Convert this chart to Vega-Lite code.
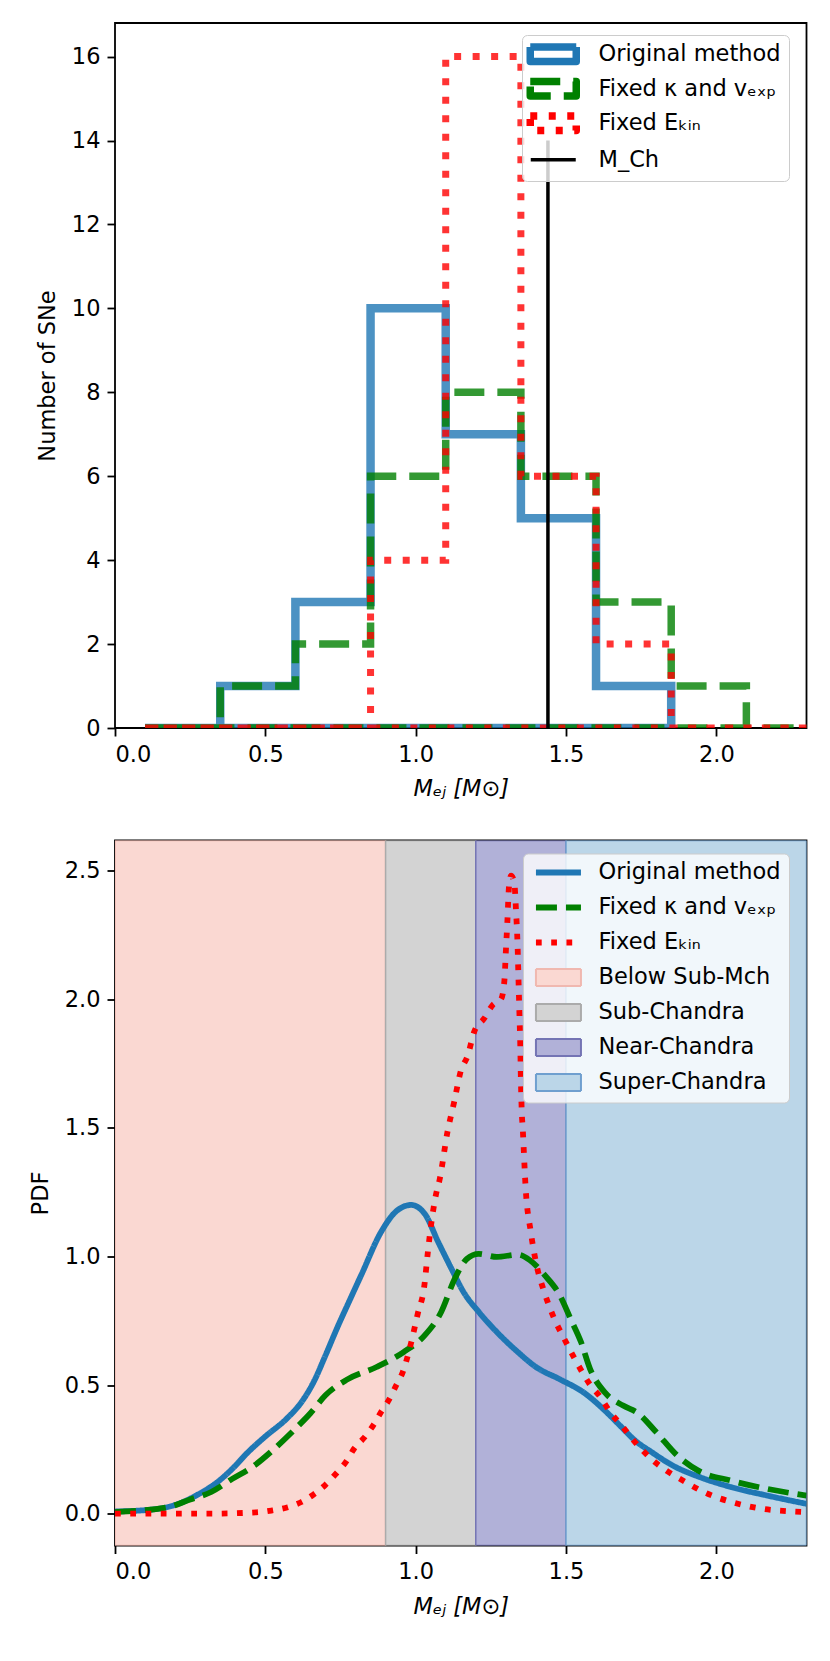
{
  "$schema": "https://vega.github.io/schema/vega-lite/v6.json",
  "padding": {"left": 28, "top": 22, "right": 5, "bottom": 5},
  "background": "white",
  "config": {
    "font": "DejaVu Sans",
    "view": {"stroke": "black", "strokeWidth": 1.8},
    "axis": {"domain": false, "grid": false, "ticks": true, "tickColor": "black", "tickWidth": 1.8, "tickSize": 8, "labelFont": "DejaVu Sans", "labelFontSize": 22.5, "labelColor": "black", "labelPadding": 7, "titleFont": "DejaVu Sans", "titleFontSize": 22.5, "titleFontWeight": "normal", "titleColor": "black", "titlePadding": 12},
    "legend": {"labelFont": "DejaVu Sans", "labelFontSize": 22.5, "labelColor": "black", "labelLimit": 500}
  },
  "datasets": {
    "hist": [
      {"method": "Original method", "i": 0, "x": 0.1, "y": 0},
      {"method": "Original method", "i": 1, "x": 0.35, "y": 1},
      {"method": "Original method", "i": 2, "x": 0.6, "y": 3},
      {"method": "Original method", "i": 3, "x": 0.85, "y": 10},
      {"method": "Original method", "i": 4, "x": 1.1, "y": 7},
      {"method": "Original method", "i": 5, "x": 1.35, "y": 5},
      {"method": "Original method", "i": 6, "x": 1.6, "y": 1},
      {"method": "Original method", "i": 7, "x": 1.85, "y": 0},
      {"method": "Original method", "i": 8, "x": 0.1, "y": 0},
      {"method": "Fixed κ and vₑₓₚ", "i": 0, "x": 0.1, "y": 0},
      {"method": "Fixed κ and vₑₓₚ", "i": 1, "x": 0.35, "y": 1},
      {"method": "Fixed κ and vₑₓₚ", "i": 2, "x": 0.6, "y": 2},
      {"method": "Fixed κ and vₑₓₚ", "i": 3, "x": 0.85, "y": 6},
      {"method": "Fixed κ and vₑₓₚ", "i": 4, "x": 1.1, "y": 8},
      {"method": "Fixed κ and vₑₓₚ", "i": 5, "x": 1.35, "y": 6},
      {"method": "Fixed κ and vₑₓₚ", "i": 6, "x": 1.6, "y": 3},
      {"method": "Fixed κ and vₑₓₚ", "i": 7, "x": 1.85, "y": 1},
      {"method": "Fixed κ and vₑₓₚ", "i": 8, "x": 2.1, "y": 0},
      {"method": "Fixed κ and vₑₓₚ", "i": 9, "x": 2.35, "y": 0},
      {"method": "Fixed κ and vₑₓₚ", "i": 10, "x": 0.1, "y": 0},
      {"method": "Fixed Eₖᵢₙ", "i": 0, "x": 0.1, "y": 0},
      {"method": "Fixed Eₖᵢₙ", "i": 1, "x": 0.35, "y": 0},
      {"method": "Fixed Eₖᵢₙ", "i": 2, "x": 0.6, "y": 0},
      {"method": "Fixed Eₖᵢₙ", "i": 3, "x": 0.85, "y": 4},
      {"method": "Fixed Eₖᵢₙ", "i": 4, "x": 1.1, "y": 16},
      {"method": "Fixed Eₖᵢₙ", "i": 5, "x": 1.35, "y": 6},
      {"method": "Fixed Eₖᵢₙ", "i": 6, "x": 1.6, "y": 2},
      {"method": "Fixed Eₖᵢₙ", "i": 7, "x": 1.85, "y": 0},
      {"method": "Fixed Eₖᵢₙ", "i": 8, "x": 2.35, "y": 0},
      {"method": "Fixed Eₖᵢₙ", "i": 9, "x": 0.1, "y": 0}
    ],
    "regions": [
      {"series": "Below Sub-Mch", "x0": 0, "x1": 0.9},
      {"series": "Sub-Chandra", "x0": 0.9, "x1": 1.2},
      {"series": "Near-Chandra", "x0": 1.2, "x1": 1.5},
      {"series": "Super-Chandra", "x0": 1.5, "x1": 2.3}
    ],
    "curves": [
      {"series": "Original method", "x": 0, "y": 0.008},
      {"series": "Original method", "x": 0.14, "y": 0.018},
      {"series": "Original method", "x": 0.21, "y": 0.038},
      {"series": "Original method", "x": 0.28, "y": 0.077},
      {"series": "Original method", "x": 0.34, "y": 0.122},
      {"series": "Original method", "x": 0.39, "y": 0.174},
      {"series": "Original method", "x": 0.44, "y": 0.236},
      {"series": "Original method", "x": 0.5, "y": 0.3},
      {"series": "Original method", "x": 0.57, "y": 0.368},
      {"series": "Original method", "x": 0.62, "y": 0.433},
      {"series": "Original method", "x": 0.66, "y": 0.51},
      {"series": "Original method", "x": 0.7, "y": 0.615},
      {"series": "Original method", "x": 0.74, "y": 0.725},
      {"series": "Original method", "x": 0.78, "y": 0.828},
      {"series": "Original method", "x": 0.82, "y": 0.93},
      {"series": "Original method", "x": 0.885, "y": 1.095},
      {"series": "Original method", "x": 0.94, "y": 1.18},
      {"series": "Original method", "x": 0.985, "y": 1.2},
      {"series": "Original method", "x": 1.03, "y": 1.166},
      {"series": "Original method", "x": 1.075, "y": 1.056},
      {"series": "Original method", "x": 1.12, "y": 0.95},
      {"series": "Original method", "x": 1.16, "y": 0.86},
      {"series": "Original method", "x": 1.21, "y": 0.784},
      {"series": "Original method", "x": 1.27, "y": 0.706},
      {"series": "Original method", "x": 1.34, "y": 0.628},
      {"series": "Original method", "x": 1.4, "y": 0.57},
      {"series": "Original method", "x": 1.48, "y": 0.522},
      {"series": "Original method", "x": 1.56, "y": 0.47},
      {"series": "Original method", "x": 1.63, "y": 0.4},
      {"series": "Original method", "x": 1.68, "y": 0.342},
      {"series": "Original method", "x": 1.73, "y": 0.284},
      {"series": "Original method", "x": 1.785, "y": 0.239},
      {"series": "Original method", "x": 1.855, "y": 0.187},
      {"series": "Original method", "x": 1.945, "y": 0.142},
      {"series": "Original method", "x": 2.05, "y": 0.103},
      {"series": "Original method", "x": 2.17, "y": 0.07},
      {"series": "Original method", "x": 2.3, "y": 0.038},
      {"series": "Fixed κ and vₑₓₚ", "x": 0, "y": 0.006},
      {"series": "Fixed κ and vₑₓₚ", "x": 0.176, "y": 0.025},
      {"series": "Fixed κ and vₑₓₚ", "x": 0.25, "y": 0.055},
      {"series": "Fixed κ and vₑₓₚ", "x": 0.32, "y": 0.084},
      {"series": "Fixed κ and vₑₓₚ", "x": 0.39, "y": 0.135},
      {"series": "Fixed κ and vₑₓₚ", "x": 0.46, "y": 0.184},
      {"series": "Fixed κ and vₑₓₚ", "x": 0.53, "y": 0.252},
      {"series": "Fixed κ and vₑₓₚ", "x": 0.6, "y": 0.33},
      {"series": "Fixed κ and vₑₓₚ", "x": 0.65, "y": 0.39},
      {"series": "Fixed κ and vₑₓₚ", "x": 0.7, "y": 0.46},
      {"series": "Fixed κ and vₑₓₚ", "x": 0.77, "y": 0.52},
      {"series": "Fixed κ and vₑₓₚ", "x": 0.87, "y": 0.57},
      {"series": "Fixed κ and vₑₓₚ", "x": 0.96, "y": 0.628},
      {"series": "Fixed κ and vₑₓₚ", "x": 1.03, "y": 0.693},
      {"series": "Fixed κ and vₑₓₚ", "x": 1.085, "y": 0.784},
      {"series": "Fixed κ and vₑₓₚ", "x": 1.13, "y": 0.913},
      {"series": "Fixed κ and vₑₓₚ", "x": 1.17, "y": 0.99},
      {"series": "Fixed κ and vₑₓₚ", "x": 1.21, "y": 1.01},
      {"series": "Fixed κ and vₑₓₚ", "x": 1.27, "y": 0.998},
      {"series": "Fixed κ and vₑₓₚ", "x": 1.34, "y": 1.007},
      {"series": "Fixed κ and vₑₓₚ", "x": 1.38, "y": 0.985},
      {"series": "Fixed κ and vₑₓₚ", "x": 1.43, "y": 0.926},
      {"series": "Fixed κ and vₑₓₚ", "x": 1.48, "y": 0.848},
      {"series": "Fixed κ and vₑₓₚ", "x": 1.515, "y": 0.758},
      {"series": "Fixed κ and vₑₓₚ", "x": 1.55, "y": 0.667},
      {"series": "Fixed κ and vₑₓₚ", "x": 1.58, "y": 0.563},
      {"series": "Fixed κ and vₑₓₚ", "x": 1.63, "y": 0.47},
      {"series": "Fixed κ and vₑₓₚ", "x": 1.69, "y": 0.42},
      {"series": "Fixed κ and vₑₓₚ", "x": 1.74, "y": 0.39},
      {"series": "Fixed κ and vₑₓₚ", "x": 1.8, "y": 0.317},
      {"series": "Fixed κ and vₑₓₚ", "x": 1.87, "y": 0.226},
      {"series": "Fixed κ and vₑₓₚ", "x": 1.94, "y": 0.167},
      {"series": "Fixed κ and vₑₓₚ", "x": 2.05, "y": 0.128},
      {"series": "Fixed κ and vₑₓₚ", "x": 2.17, "y": 0.096},
      {"series": "Fixed κ and vₑₓₚ", "x": 2.3, "y": 0.07},
      {"series": "Fixed Eₖᵢₙ", "x": 0, "y": 0.0},
      {"series": "Fixed Eₖᵢₙ", "x": 0.32, "y": 0.0},
      {"series": "Fixed Eₖᵢₙ", "x": 0.47, "y": 0.005},
      {"series": "Fixed Eₖᵢₙ", "x": 0.52, "y": 0.012},
      {"series": "Fixed Eₖᵢₙ", "x": 0.575, "y": 0.025},
      {"series": "Fixed Eₖᵢₙ", "x": 0.62, "y": 0.045},
      {"series": "Fixed Eₖᵢₙ", "x": 0.66, "y": 0.074},
      {"series": "Fixed Eₖᵢₙ", "x": 0.7, "y": 0.112},
      {"series": "Fixed Eₖᵢₙ", "x": 0.735, "y": 0.155},
      {"series": "Fixed Eₖᵢₙ", "x": 0.77, "y": 0.204},
      {"series": "Fixed Eₖᵢₙ", "x": 0.795, "y": 0.252},
      {"series": "Fixed Eₖᵢₙ", "x": 0.83, "y": 0.297},
      {"series": "Fixed Eₖᵢₙ", "x": 0.86, "y": 0.345},
      {"series": "Fixed Eₖᵢₙ", "x": 0.885, "y": 0.395},
      {"series": "Fixed Eₖᵢₙ", "x": 0.91, "y": 0.44},
      {"series": "Fixed Eₖᵢₙ", "x": 0.935, "y": 0.498},
      {"series": "Fixed Eₖᵢₙ", "x": 0.957, "y": 0.55},
      {"series": "Fixed Eₖᵢₙ", "x": 0.984, "y": 0.66},
      {"series": "Fixed Eₖᵢₙ", "x": 1.007, "y": 0.777},
      {"series": "Fixed Eₖᵢₙ", "x": 1.029, "y": 0.887},
      {"series": "Fixed Eₖᵢₙ", "x": 1.04, "y": 1.01},
      {"series": "Fixed Eₖᵢₙ", "x": 1.051, "y": 1.12},
      {"series": "Fixed Eₖᵢₙ", "x": 1.067, "y": 1.237},
      {"series": "Fixed Eₖᵢₙ", "x": 1.08, "y": 1.3},
      {"series": "Fixed Eₖᵢₙ", "x": 1.106, "y": 1.485},
      {"series": "Fixed Eₖᵢₙ", "x": 1.128, "y": 1.6},
      {"series": "Fixed Eₖᵢₙ", "x": 1.15, "y": 1.72},
      {"series": "Fixed Eₖᵢₙ", "x": 1.173, "y": 1.78},
      {"series": "Fixed Eₖᵢₙ", "x": 1.195, "y": 1.874},
      {"series": "Fixed Eₖᵢₙ", "x": 1.228, "y": 1.925},
      {"series": "Fixed Eₖᵢₙ", "x": 1.256, "y": 1.977},
      {"series": "Fixed Eₖᵢₙ", "x": 1.284, "y": 2.0},
      {"series": "Fixed Eₖᵢₙ", "x": 1.295, "y": 2.07},
      {"series": "Fixed Eₖᵢₙ", "x": 1.3, "y": 2.185},
      {"series": "Fixed Eₖᵢₙ", "x": 1.305, "y": 2.3},
      {"series": "Fixed Eₖᵢₙ", "x": 1.31, "y": 2.43},
      {"series": "Fixed Eₖᵢₙ", "x": 1.317, "y": 2.48},
      {"series": "Fixed Eₖᵢₙ", "x": 1.328, "y": 2.455},
      {"series": "Fixed Eₖᵢₙ", "x": 1.334, "y": 2.34},
      {"series": "Fixed Eₖᵢₙ", "x": 1.339, "y": 2.21},
      {"series": "Fixed Eₖᵢₙ", "x": 1.342, "y": 2.08},
      {"series": "Fixed Eₖᵢₙ", "x": 1.345, "y": 1.95},
      {"series": "Fixed Eₖᵢₙ", "x": 1.348, "y": 1.82},
      {"series": "Fixed Eₖᵢₙ", "x": 1.35, "y": 1.69},
      {"series": "Fixed Eₖᵢₙ", "x": 1.353, "y": 1.56},
      {"series": "Fixed Eₖᵢₙ", "x": 1.356, "y": 1.5},
      {"series": "Fixed Eₖᵢₙ", "x": 1.366, "y": 1.263},
      {"series": "Fixed Eₖᵢₙ", "x": 1.383, "y": 1.095},
      {"series": "Fixed Eₖᵢₙ", "x": 1.4, "y": 0.978},
      {"series": "Fixed Eₖᵢₙ", "x": 1.428, "y": 0.861},
      {"series": "Fixed Eₖᵢₙ", "x": 1.461, "y": 0.758},
      {"series": "Fixed Eₖᵢₙ", "x": 1.494, "y": 0.68},
      {"series": "Fixed Eₖᵢₙ", "x": 1.538, "y": 0.583},
      {"series": "Fixed Eₖᵢₙ", "x": 1.582, "y": 0.498},
      {"series": "Fixed Eₖᵢₙ", "x": 1.61, "y": 0.46},
      {"series": "Fixed Eₖᵢₙ", "x": 1.65, "y": 0.39},
      {"series": "Fixed Eₖᵢₙ", "x": 1.69, "y": 0.336},
      {"series": "Fixed Eₖᵢₙ", "x": 1.72, "y": 0.291},
      {"series": "Fixed Eₖᵢₙ", "x": 1.753, "y": 0.248},
      {"series": "Fixed Eₖᵢₙ", "x": 1.79, "y": 0.206},
      {"series": "Fixed Eₖᵢₙ", "x": 1.834, "y": 0.167},
      {"series": "Fixed Eₖᵢₙ", "x": 1.89, "y": 0.128},
      {"series": "Fixed Eₖᵢₙ", "x": 1.96, "y": 0.083},
      {"series": "Fixed Eₖᵢₙ", "x": 2.06, "y": 0.042},
      {"series": "Fixed Eₖᵢₙ", "x": 2.156, "y": 0.018},
      {"series": "Fixed Eₖᵢₙ", "x": 2.26, "y": 0.008},
      {"series": "Fixed Eₖᵢₙ", "x": 2.3, "y": 0.006}
    ]
  },
  "vconcat": [
    {
      "width": 691.5,
      "height": 705,
      "data": {"name": "hist"},
      "encoding": {
        "x": {"field": "x", "type": "quantitative", "scale": {"domain": [0, 2.3], "nice": false, "zero": false}, "axis": {"values": [0, 0.5, 1, 1.5, 2], "format": ".1f", "title": "Mₑⱼ [M⊙]", "titleFontStyle": "italic"}},
        "y": {"field": "y", "type": "quantitative", "scale": {"domain": [0, 16.8], "nice": false}, "axis": {"values": [0, 2, 4, 6, 8, 10, 12, 14, 16], "format": "d", "title": "Number of SNe"}},
        "stroke": {"field": "method", "type": "nominal", "scale": {"domain": ["Original method", "Fixed κ and vₑₓₚ", "Fixed Eₖᵢₙ", "M_Ch"], "range": ["#1f77b4", "#008000", "#ff0000", "#000000"]},
          "legend": {"title": null, "orient": "none", "legendX": 407, "legendY": 12, "padding": 8, "rowPadding": 11.5, "symbolSize": 100, "symbolStrokeWidth": 7.5, "symbolOffset": 12, "labelOffset": 34, "fillColor": "rgba(255,255,255,0.8)", "strokeColor": "#cccccc", "cornerRadius": 5,
            "encode": {"symbols": {"update": {"shape": {"signal": "datum.index === 3 ? 'M-4.5,0H4.5M0,-2.25M0,2.25' : 'M-4.6,-1.45H4.6V1.45H-4.6Z'"}, "strokeWidth": {"signal": "datum.index === 3 ? 3.5 : 7.5"}, "strokeJoin": {"value": "round"}, "fill": {"value": "transparent"}}}}}},
        "strokeDash": {"field": "method", "type": "nominal", "scale": {"domain": ["Original method", "Fixed κ and vₑₓₚ", "Fixed Eₖᵢₙ", "M_Ch"], "range": [[1, 0], [30, 13], [7, 11.5], [1, 0]]},
          "legend": {"title": null, "orient": "none", "legendX": 407, "legendY": 12, "padding": 8, "rowPadding": 11.5, "symbolSize": 100, "symbolStrokeWidth": 7.5, "symbolOffset": 12, "labelOffset": 34, "fillColor": "rgba(255,255,255,0.8)", "strokeColor": "#cccccc", "cornerRadius": 5,
            "encode": {"symbols": {"update": {"shape": {"signal": "datum.index === 3 ? 'M-4.5,0H4.5M0,-2.25M0,2.25' : 'M-4.6,-1.45H4.6V1.45H-4.6Z'"}, "strokeWidth": {"signal": "datum.index === 3 ? 3.5 : 7.5"}, "strokeJoin": {"value": "round"}, "fill": {"value": "transparent"}}}}}}
      },
      "layer": [
        {"transform": [{"filter": "datum.method === 'Original method'"}], "mark": {"type": "line", "interpolate": "step-after", "clip": true, "strokeWidth": 8.5, "strokeOpacity": 0.8}, "encoding": {"order": {"field": "i", "type": "quantitative"}}},
        {"transform": [{"filter": "datum.method === 'Fixed κ and vₑₓₚ'"}], "mark": {"type": "line", "interpolate": "step-after", "clip": true, "strokeWidth": 7.5, "strokeOpacity": 0.8}, "encoding": {"order": {"field": "i", "type": "quantitative"}}},
        {"transform": [{"filter": "datum.method === 'Fixed Eₖᵢₙ'"}], "mark": {"type": "line", "interpolate": "step-after", "clip": true, "strokeWidth": 7, "strokeOpacity": 0.8}, "encoding": {"order": {"field": "i", "type": "quantitative"}}},
        {"data": {"values": [{"method": "M_Ch", "x": 1.44, "y": 0, "y2": 14}]}, "mark": {"type": "rule", "strokeWidth": 3.5}, "encoding": {"y2": {"field": "y2"}}}
      ]
    },
    {
      "width": 691.5,
      "height": 705,
      "encoding": {
        "stroke": {"field": "series", "type": "nominal", "scale": {"domain": ["Original method", "Fixed κ and vₑₓₚ", "Fixed Eₖᵢₙ", "Below Sub-Mch", "Sub-Chandra", "Near-Chandra", "Super-Chandra"], "range": ["#1f77b4", "#008000", "#ff0000", "#f0b8b0", "#ababab", "#7474b4", "#6f9fcf"]},
          "legend": {"title": null, "orient": "none", "legendX": 408, "legendY": 13, "padding": 7.7, "rowPadding": 12, "symbolSize": 100, "symbolStrokeWidth": 6, "symbolOffset": 16.5, "labelOffset": 28.8, "fillColor": "rgba(255,255,255,0.8)", "strokeColor": "#cccccc", "cornerRadius": 5,
            "encode": {"symbols": {"update": {"shape": {"signal": "datum.index < 3 ? 'M-4.5,0H4.5' : 'M-4.5,-1.7H4.5V1.7H-4.5Z'"}, "strokeWidth": {"signal": "datum.index < 3 ? 6 : 2"}, "strokeJoin": {"value": "round"}}}}}},
        "strokeDash": {"field": "series", "type": "nominal", "scale": {"domain": ["Original method", "Fixed κ and vₑₓₚ", "Fixed Eₖᵢₙ", "Below Sub-Mch", "Sub-Chandra", "Near-Chandra", "Super-Chandra"], "range": [[1, 0], [21, 9], [5.75, 9.5], [1, 0], [1, 0], [1, 0], [1, 0]]},
          "legend": {"title": null, "orient": "none", "legendX": 408, "legendY": 13, "padding": 7.7, "rowPadding": 12, "symbolSize": 100, "symbolStrokeWidth": 6, "symbolOffset": 16.5, "labelOffset": 28.8, "fillColor": "rgba(255,255,255,0.8)", "strokeColor": "#cccccc", "cornerRadius": 5,
            "encode": {"symbols": {"update": {"shape": {"signal": "datum.index < 3 ? 'M-4.5,0H4.5' : 'M-4.5,-1.7H4.5V1.7H-4.5Z'"}, "strokeWidth": {"signal": "datum.index < 3 ? 6 : 2"}, "strokeJoin": {"value": "round"}}}}}}
      },
      "layer": [
        {
          "data": {"name": "regions"},
          "mark": {"type": "rect", "strokeWidth": 1.5, "clip": true},
          "encoding": {
            "x": {"field": "x0", "type": "quantitative", "scale": {"domain": [0, 2.3], "nice": false, "zero": false}, "axis": {"values": [0, 0.5, 1, 1.5, 2], "format": ".1f", "title": "Mₑⱼ [M⊙]", "titleFontStyle": "italic"}},
            "x2": {"field": "x1"},
            "fill": {"field": "series", "type": "nominal", "scale": {"domain": ["Original method", "Fixed κ and vₑₓₚ", "Fixed Eₖᵢₙ", "Below Sub-Mch", "Sub-Chandra", "Near-Chandra", "Super-Chandra"], "range": ["transparent", "transparent", "transparent", "#fad8d2", "#d3d3d3", "#b1b1d8", "#bbd6e8"]},
              "legend": {"title": null, "orient": "none", "legendX": 408, "legendY": 13, "padding": 7.7, "rowPadding": 12, "symbolSize": 100, "symbolStrokeWidth": 6, "symbolOffset": 16.5, "labelOffset": 28.8, "fillColor": "rgba(255,255,255,0.8)", "strokeColor": "#cccccc", "cornerRadius": 5,
                "encode": {"symbols": {"update": {"shape": {"signal": "datum.index < 3 ? 'M-4.5,0H4.5' : 'M-4.5,-1.7H4.5V1.7H-4.5Z'"}, "strokeWidth": {"signal": "datum.index < 3 ? 6 : 2"}, "strokeJoin": {"value": "round"}}}}}}
          }
        },
        {
          "data": {"name": "curves"},
          "mark": {"type": "line", "strokeWidth": 5.8, "clip": true, "interpolate": "monotone"},
          "encoding": {
            "x": {"field": "x", "type": "quantitative"},
            "y": {"field": "y", "type": "quantitative", "scale": {"domain": [-0.124, 2.617], "nice": false, "zero": false}, "axis": {"values": [0, 0.5, 1, 1.5, 2, 2.5], "format": ".1f", "title": "PDF"}}
          }
        }
      ]
    }
  ],
  "spacing": 112.5,
  "bounds": "flush",
  "resolve": {"scale": {"x": "independent", "y": "independent", "stroke": "independent", "strokeDash": "independent", "fill": "independent"}, "legend": {"stroke": "independent", "strokeDash": "independent", "fill": "independent"}}
}
